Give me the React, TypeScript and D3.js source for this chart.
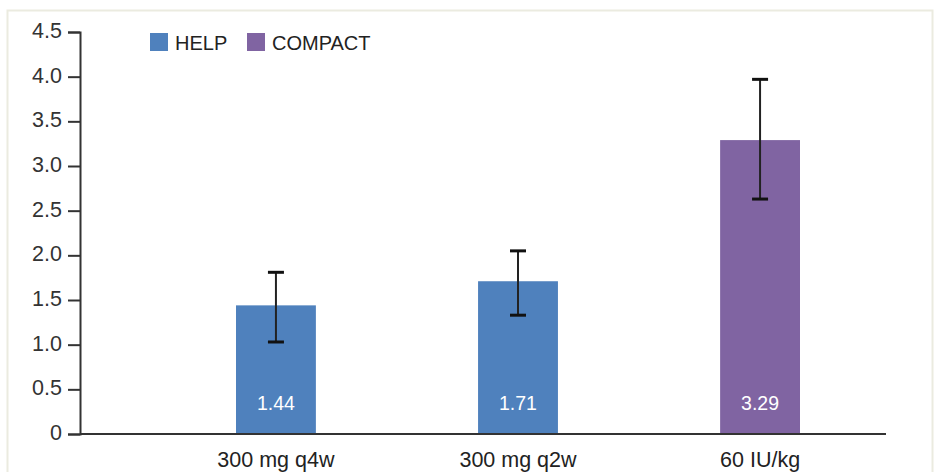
import * as d3 from 'd3'
import { useEffect, useRef } from 'react'

// данные
const categories = ['300 mg q4w', '300 mg q2w', '60 IU/kg']
const groups = ['HELP', 'HELP', 'COMPACT']
const values = [1.44, 1.71, 3.29]
const errLow = [1.03, 1.33, 2.63]
const errHigh = [1.81, 2.05, 3.97]
const legendNames = ['HELP', 'COMPACT']
const yTicks = [0, 0.5, 1, 1.5, 2, 2.5, 3, 3.5, 4, 4.5]

const colors: Record<string, string> = { HELP: '#4F81BD', COMPACT: '#8064A2' }

const App = () => {
	const svgRef = useRef<SVGSVGElement>(null)

	const width = 934
	const height = 472
	const axisLeft = 80
	const axisRight = 886

	useEffect(() => {
		const svg = d3.select(svgRef.current)
		svg.selectAll('*').remove()
		const font = '"Liberation Sans", Arial, sans-serif'

		// рамка
		svg.append('rect')
			.attr('x', 7.5)
			.attr('y', 10.5)
			.attr('width', 925)
			.attr('height', 480)
			.attr('fill', '#fff')
			.attr('stroke', '#ebebe0')
			.attr('stroke-width', 2)

		const y = d3.scaleLinear().domain([0, 4.5]).range([434, 32])
		const x = d3.scaleBand().domain(categories).range([236, 800]).paddingInner(0.67).paddingOuter(0)

		// ось Y
		const gy = svg.append('g').attr('transform', `translate(${axisLeft},0)`)
		gy.call(
			d3.axisLeft(y)
				.tickValues(yTicks)
				.tickSize(12)
				.tickPadding(6)
				.tickFormat((d) => (+d === 0 ? '0' : d3.format('.1f')(+d)))
		)
		gy.select('.domain').attr('stroke', '#333').attr('stroke-width', 2)
		gy.selectAll('.tick line').attr('stroke', '#333').attr('stroke-width', 2)
		gy.selectAll('.tick text')
			.attr('font-family', font)
			.attr('font-size', 21.5)
			.attr('dy', '0.26em')
			.attr('fill', '#333')

		// бары
		svg.append('g')
			.selectAll('rect')
			.data(values)
			.join('rect')
			.attr('x', (d, i) => x(categories[i])!)
			.attr('y', (d) => y(d))
			.attr('width', x.bandwidth())
			.attr('height', (d) => y(0) - y(d))
			.attr('fill', (d, i) => colors[groups[i]])

		// подписи внутри баров
		svg.append('g')
			.selectAll('text')
			.data(values)
			.join('text')
			.attr('x', (d, i) => x(categories[i])! + x.bandwidth() / 2)
			.attr('y', y(0) - 24)
			.attr('text-anchor', 'middle')
			.attr('font-family', font)
			.attr('font-size', 19.5)
			.attr('fill', '#fff')
			.text((d) => d.toFixed(2))

		// ось X
		svg.append('line')
			.attr('x1', axisLeft)
			.attr('x2', axisRight)
			.attr('y1', y(0))
			.attr('y2', y(0))
			.attr('stroke', '#333')
			.attr('stroke-width', 2)

		svg.append('g')
			.selectAll('text')
			.data(categories)
			.join('text')
			.attr('x', (d) => x(d)! + x.bandwidth() / 2)
			.attr('y', 467)
			.attr('text-anchor', 'middle')
			.attr('font-family', font)
			.attr('font-size', 21.5)
			.attr('fill', '#222')
			.text((d) => d)

		// планки погрешностей
		const eb = svg.append('g').selectAll('g').data(categories).join('g')
		eb.append('line')
			.attr('x1', (d) => x(d)! + x.bandwidth() / 2)
			.attr('x2', (d) => x(d)! + x.bandwidth() / 2)
			.attr('y1', (d, i) => y(errHigh[i]))
			.attr('y2', (d, i) => y(errLow[i]))
			.attr('stroke', '#222')
			.attr('stroke-width', 2)
		for (const arr of [errHigh, errLow]) {
			eb.append('line')
				.attr('x1', (d) => x(d)! + x.bandwidth() / 2 - 8)
				.attr('x2', (d) => x(d)! + x.bandwidth() / 2 + 8)
				.attr('y1', (d, i) => y(arr[i]))
				.attr('y2', (d, i) => y(arr[i]))
				.attr('stroke', '#111')
				.attr('stroke-width', 3)
		}

		// легенда
		const lx = [150, 247]
		const lg = svg.append('g').selectAll('g').data(legendNames).join('g')
			.attr('transform', (d, i) => `translate(${lx[i]},33)`)
		lg.append('rect')
			.attr('width', 18)
			.attr('height', 18)
			.attr('fill', (d) => colors[d])
		lg.append('text')
			.attr('x', 25)
			.attr('y', 17)
			.attr('font-family', font)
			.attr('font-size', 20)
			.attr('fill', '#222')
			.text((d) => d)
	}, [])

	return (
		<svg
			ref={svgRef}
			width={width}
			height={height}
			style={{ position: 'absolute', left: 0, top: 0, display: 'block' }}
		></svg>
	)
}

export default App
